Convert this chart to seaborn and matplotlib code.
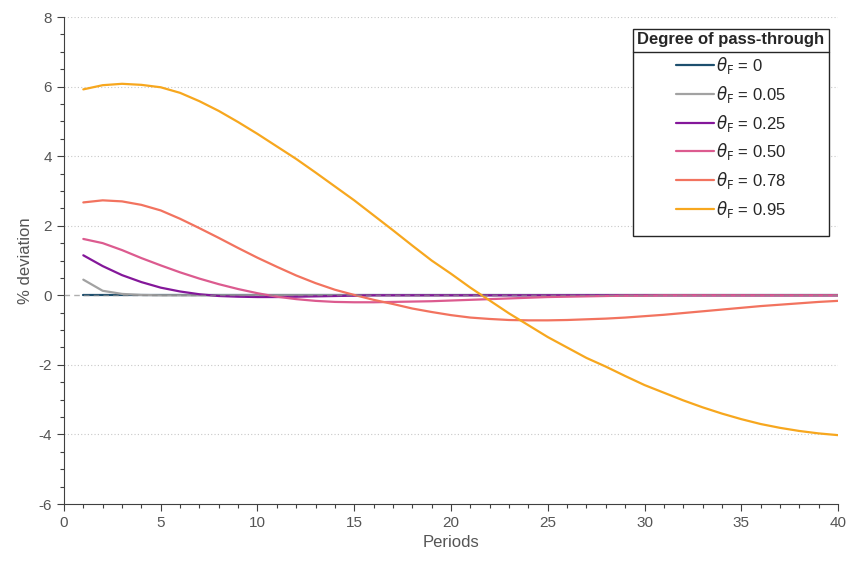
import pandas as pd
import matplotlib.pyplot as plt
import seaborn as sns
from matplotlib.lines import Line2D
from matplotlib.patches import Rectangle

# Impulse responses, % deviation by period
periods = list(range(1, 41))
labels = ["0", "0.05", "0.25", "0.50", "0.78", "0.95"]
colors = ["#1d4f6e", "#a2a2a2", "#84179a", "#dc5b8f", "#f2735f", "#f7a71e"]

theta_000 = [0.0] * 40
theta_005 = [0.45, 0.13, 0.04, 0.01] + [0.0] * 36
theta_025 = [1.15, 0.84, 0.58, 0.38, 0.22, 0.11, 0.03, -0.02, -0.04, -0.05,
             -0.05, -0.04, -0.03, -0.02, -0.01] + [0.0] * 25
theta_050 = [1.62, 1.50, 1.30, 1.07, 0.86, 0.66, 0.48, 0.32, 0.18, 0.06,
             -0.04, -0.11, -0.16, -0.19, -0.20, -0.20, -0.19, -0.18, -0.17, -0.15,
             -0.13, -0.11, -0.09, -0.07, -0.05, -0.04, -0.03, -0.02, -0.01, -0.01,
             0.0, 0.0, 0.0, 0.0, 0.0, 0.0, 0.0, 0.0, 0.0, 0.0]
theta_078 = [2.67, 2.73, 2.70, 2.60, 2.44, 2.20, 1.93, 1.65, 1.36, 1.08,
             0.82, 0.57, 0.35, 0.16, 0.01, -0.13, -0.25, -0.38, -0.48, -0.57,
             -0.64, -0.68, -0.71, -0.72, -0.72, -0.71, -0.69, -0.67, -0.64, -0.60,
             -0.56, -0.51, -0.46, -0.41, -0.36, -0.31, -0.27, -0.23, -0.19, -0.16]
theta_095 = [5.92, 6.04, 6.08, 6.05, 5.98, 5.82, 5.58, 5.30, 4.98, 4.64,
             4.28, 3.92, 3.53, 3.13, 2.73, 2.30, 1.87, 1.43, 1.00, 0.62,
             0.22, -0.15, -0.52, -0.86, -1.20, -1.50, -1.80, -2.05, -2.32, -2.58,
             -2.80, -3.02, -3.22, -3.40, -3.56, -3.70, -3.81, -3.90, -3.97, -4.02]

series = [theta_000, theta_005, theta_025, theta_050, theta_078, theta_095]

frames = []
for lab, vals in zip(labels, series):
    frames.append(pd.DataFrame({"period": periods, "dev": vals, "theta": lab}))
df = pd.concat(frames, ignore_index=True)

sns.set_theme(style="ticks")
plt.rcParams["font.family"] = ["Liberation Sans", "DejaVu Sans"]
plt.rcParams["mathtext.fontset"] = "dejavusans"
plt.rcParams["axes.unicode_minus"] = False

fig = plt.figure(figsize=(8.54, 5.71), dpi=100)
ax = fig.add_axes([0.0749, 0.1173, 0.9064, 0.8529])

sns.lineplot(data=df, x="period", y="dev", hue="theta", hue_order=labels,
             palette=colors, linewidth=1.6, legend=False, ax=ax)

# dotted grid and dashed zero line
for yv in [8, 6, 4, 2, -2, -4]:
    ax.axhline(yv, color="#c8c8c8", linestyle=(0, (1, 2)), linewidth=0.8, zorder=0)
ax.axhline(0, color="#8c8c8c", linestyle=(0, (4, 3)), linewidth=1.0, alpha=0.7, zorder=3)

ax.set_xlim(0, 40)
ax.set_ylim(-6, 8)
ax.set_xticks(range(0, 41, 5))
ax.set_xticks(range(0, 41, 1), minor=True)
ax.set_yticks(range(-6, 9, 2))
ax.set_yticks([v / 2 for v in range(-12, 17)], minor=True)
ax.tick_params(axis="both", which="major", length=5, width=0.8, color="#404040",
               labelsize=11, labelcolor="#555555")
ax.tick_params(axis="both", which="minor", length=3, width=0.8, color="#404040")
sns.despine(ax=ax)
for sp in ["left", "bottom"]:
    ax.spines[sp].set_color("#404040")
    ax.spines[sp].set_linewidth(0.8)

ax.set_xlabel("Periods", fontsize=12, color="#555555")
ax.set_ylabel("% deviation", fontsize=12, color="#555555")

handles = [Line2D([0], [0], color=c, linewidth=1.6) for c in colors]
leg_labels = [r"$\theta_{\rm F}$ = " + lab for lab in labels]
leg = ax.legend(handles, leg_labels, title="Degree of pass-through",
                loc="upper center", bbox_to_anchor=(731 / 854, 1 - 32 / 571),
                bbox_transform=fig.transFigure, borderaxespad=0, borderpad=0,
                fontsize=12, title_fontsize=12, frameon=False,
                handlelength=2.3, handletextpad=0.1, labelspacing=0.47)
leg.get_title().set_fontweight("bold")
leg._legend_box.align = "center"
leg.set_zorder(10)

# boxed frame and separator line under the legend title
fig.canvas.draw()
lb = leg.get_window_extent()
tb = leg.get_title().get_window_extent()
W, H = fig.bbox.width, fig.bbox.height
fx0, fx1 = (lb.x0 - 4) / W, (lb.x1 + 4) / W
fy0, fy1 = (lb.y0 - 16) / H, (lb.y1 + 3) / H
ax.add_patch(Rectangle((fx0, fy0), fx1 - fx0, fy1 - fy0, transform=fig.transFigure,
                       facecolor="white", edgecolor="#262626", linewidth=1.0,
                       zorder=8, clip_on=False))
ysep = (tb.y0 - 5) / H
ax.add_line(Line2D([fx0, fx1], [ysep, ysep], transform=fig.transFigure,
                   color="#262626", linewidth=1.0, zorder=9, clip_on=False))

plt.savefig("out.png", dpi=100)
